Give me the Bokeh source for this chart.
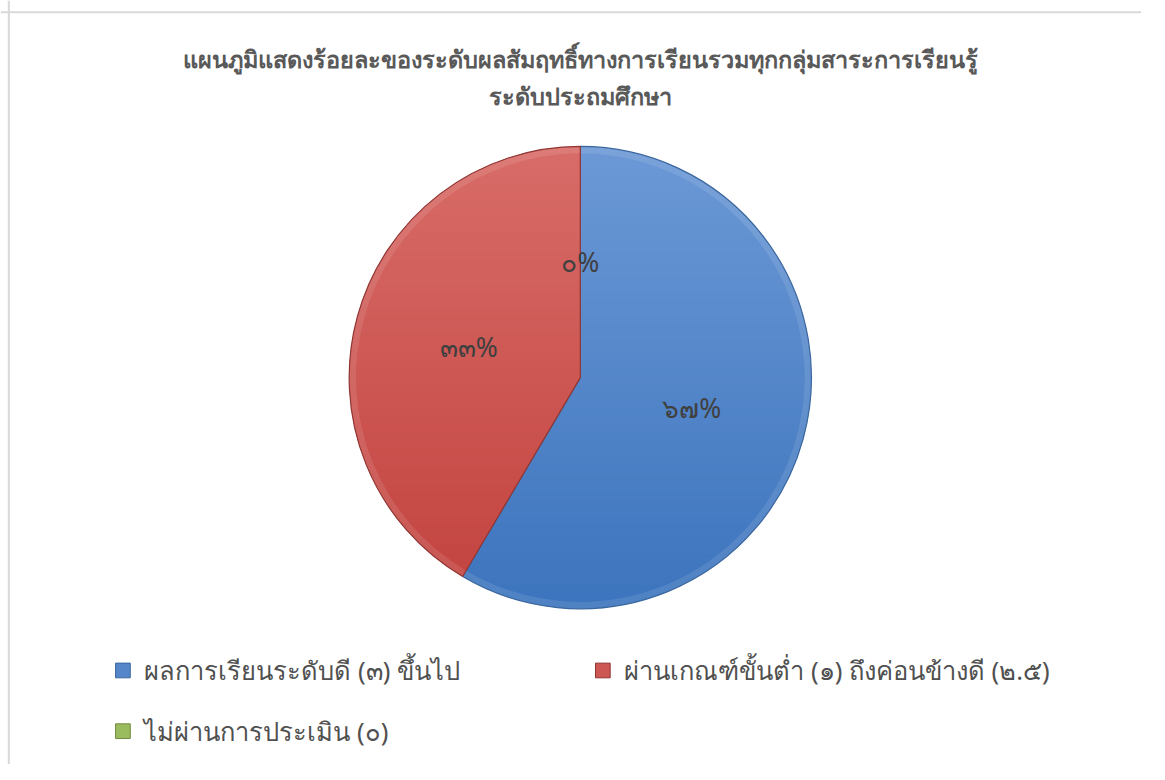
import math
from bokeh.plotting import figure
from bokeh.models import Range1d, Span
from bokeh.core.properties import value
from bokeh.embed import file_html
from bokeh.resources import INLINE

# ---- data ----
categories = ["ผลการเรียนระดับดี (๓) ขึ้นไป",
              "ผ่านเกณฑ์ขั้นต่ำ (๑) ถึงค่อนข้างดี (๒.๕)",
              "ไม่ผ่านการประเมิน (๐)"]
shares = [58.5, 41.5, 0.0]            # slice sizes as drawn
pct_labels = ["๖๗%", "๓๓%", "๐%"]      # data labels as printed
title_lines = ["แผนภูมิแสดงร้อยละของระดับผลสัมฤทธิ์ทางการเรียนรวมทุกกลุ่มสาระการเรียนรู้",
               "ระดับประถมศึกษา"]

# ---- styles ----
top_cols = [(108, 153, 214), (216, 108, 104), (170, 200, 110)]
bot_cols = [(60, 116, 189), (194, 66, 62), (140, 175, 80)]
edge_cols = ["#3a679e", "#8f3633", "#71893f"]
FONT = "Noto Sans"

REF_W, REF_H = 1165, 780
W, H = 1141, 764
p = figure(width=W, height=H, output_backend="svg", toolbar_location=None,
           x_range=Range1d(0, REF_W), y_range=Range1d(0, REF_H),
           min_border=0, outline_line_color=None)
p.axis.visible = False
p.grid.visible = False
p.background_fill_color = "white"
p.border_fill_color = "white"

# chart-area border (left & top)
p.add_layout(Span(location=8.5, dimension="height", line_color="#d9d9d9", line_width=2))
p.add_layout(Span(location=REF_H - 12, dimension="width", line_color="#d9d9d9", line_width=2))

cx, cy, R = 592, REF_H - 385, 236


def hexc(c):
    return "#%02x%02x%02x" % c


def clip(poly, y0, keep_above):
    out = []
    n = len(poly)
    for i in range(n):
        a = poly[i]
        b = poly[(i + 1) % n]
        ina = a[1] >= y0 if keep_above else a[1] <= y0
        inb = b[1] >= y0 if keep_above else b[1] <= y0
        if ina:
            out.append(a)
        if ina != inb:
            t = (y0 - a[1]) / (b[1] - a[1])
            out.append((a[0] + t * (b[0] - a[0]), y0))
    return out


total = sum(shares)
starts, ends = [], []
acc = 0.0
for s in shares:
    a1 = math.pi / 2 - 2 * math.pi * acc / total
    acc += s
    a2 = math.pi / 2 - 2 * math.pi * acc / total
    starts.append(a1)
    ends.append(a2)

NSTRIP = 60
for i, s in enumerate(shares):
    if s <= 0:
        continue
    a1, a2 = starts[i], ends[i]
    n = max(8, int(abs(a1 - a2) / (2 * math.pi) * 360))
    poly = [(cx, cy)] + [(cx + R * math.cos(a1 + (a2 - a1) * k / n),
                          cy + R * math.sin(a1 + (a2 - a1) * k / n)) for k in range(n + 1)]
    xs_all, ys_all, cols = [], [], []
    for k in range(NSTRIP):
        y_hi = cy + R - 2 * R * k / NSTRIP
        y_lo = cy + R - 2 * R * (k + 1) / NSTRIP
        pc = clip(clip(poly, y_lo - 0.6, True), y_hi + 0.6, False)
        if len(pc) < 3:
            continue
        t = (k + 0.5) / NSTRIP
        c = tuple(int(round(top_cols[i][j] + (bot_cols[i][j] - top_cols[i][j]) * t)) for j in range(3))
        xs_all.append([q[0] for q in pc])
        ys_all.append([q[1] for q in pc])
        cols.append(hexc(c))
    p.patches(xs_all, ys_all, fill_color=cols, line_color=None)
    # rim highlight + edge
    p.annular_wedge(cx, cy, inner_radius=R - 7, outer_radius=R, start_angle=a1, end_angle=a2,
                    direction="clock", fill_color="white", fill_alpha=0.10, line_color=None)
    p.wedge(cx, cy, radius=R, start_angle=a1, end_angle=a2, direction="clock",
            fill_color=None, line_color=edge_cols[i], line_width=1.2)

# data labels at half radius, mid-angle
lx, ly = [], []
for i in range(len(shares)):
    mid = (starts[i] + ends[i]) / 2
    lx.append(cx + 0.5 * R * math.cos(mid))
    ly.append(cy + 0.5 * R * math.sin(mid))
p.text(lx, ly, text=pct_labels, text_align="center", text_baseline="middle",
       text_font=value(FONT), text_font_size="26.5px", text_color="#404040")

# title
p.text([cx, cx], [REF_H - 60, REF_H - 97], text=title_lines, text_align="center",
       text_baseline="middle", text_font=value(FONT), text_font_style="bold",
       text_font_size="23.5px", text_color="#595959")

# legend
leg_x = [125, 615, 125]
leg_y = [REF_H - 684, REF_H - 684, REF_H - 746]
sq_cols = [hexc(tuple((top_cols[i][j] + bot_cols[i][j]) // 2 for j in range(3))) for i in range(3)]
p.rect(leg_x, leg_y, width=15, height=15, fill_color=sq_cols, line_color=edge_cols, line_width=1)
p.text([x + 22 for x in leg_x], leg_y, text=categories, text_align="left", text_baseline="middle",
       text_font=value(FONT), text_font_size="25.5px", text_color="#505050")

open("out.html", "w").write(file_html(p, INLINE))
